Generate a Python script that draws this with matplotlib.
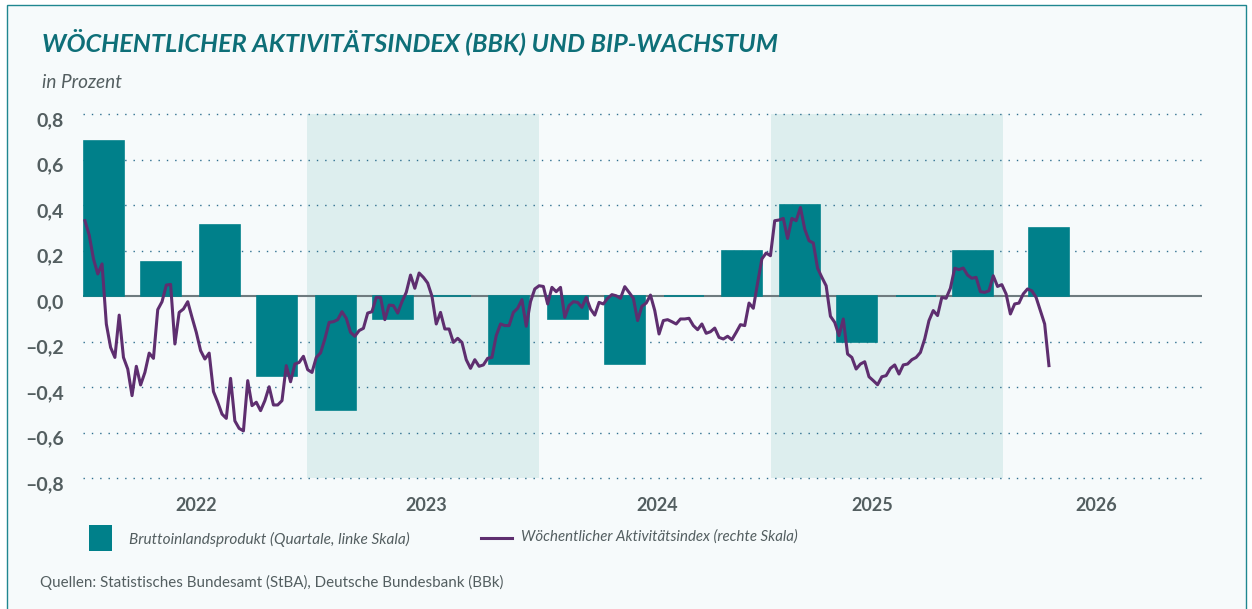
import numpy as np
import pandas as pd
import matplotlib
matplotlib.use('Agg')
import matplotlib.pyplot as plt
import matplotlib.transforms as mtrans
from matplotlib.patches import Rectangle
from matplotlib.lines import Line2D

plt.rcParams['font.family'] = ['Lato', 'DejaVu Sans']

# BIP, Veraenderung gg. Vorquartal (Quartalsmitte)
bip_datum = ['2022-02-15', '2022-05-16', '2022-08-16', '2022-11-15',
             '2023-02-15', '2023-05-16', '2023-08-16', '2023-11-15',
             '2024-02-15', '2024-05-16', '2024-08-16', '2024-11-15',
             '2025-02-15', '2025-05-16', '2025-08-16', '2025-11-15',
             '2026-03-14']
bip_werte = [0.68, 0.15, 0.31, -0.35, -0.50, -0.10, 0.0, -0.30,
             -0.10, -0.30, 0.0, 0.20, 0.40, -0.20, 0.0, 0.20, 0.30]

# Woechentlicher Aktivitaetsindex
wai_start = '2022-01-16'
wai_ende = '2026-03-14'
wai_werte = [
    0.331, 0.268, 0.163, 0.097, 0.141, -0.123, -0.226, -0.27, -0.084, -0.27,
    -0.321, -0.438, -0.309, -0.391, -0.336, -0.251, -0.274, -0.060, -0.025, 0.048,
    0.051, -0.211, -0.072, -0.057, -0.025, -0.094, -0.16, -0.24, -0.277, -0.251,
    -0.42, -0.467, -0.519, -0.538, -0.362, -0.549, -0.582, -0.593, -0.372, -0.482,
    -0.467, -0.504, -0.46, -0.399, -0.479, -0.479, -0.46, -0.306, -0.377, -0.299,
    -0.292, -0.265, -0.324, -0.336, -0.27, -0.25, -0.189, -0.116, -0.113, -0.104,
    -0.069, -0.098, -0.16, -0.177, -0.152, -0.142, -0.075, -0.069, -0.006, -0.006,
    -0.104, -0.04, -0.042, -0.075, -0.025, 0.016, 0.092, 0.034, 0.101, 0.082,
    0.057, -0.001, -0.123, -0.072, -0.145, -0.145, -0.204, -0.186, -0.204, -0.280,
    -0.318, -0.28, -0.309, -0.303, -0.274, -0.27, -0.174, -0.123, -0.13, -0.13,
    -0.072, -0.054, -0.016, -0.133, -0.025, 0.031, 0.045, 0.042, -0.035, 0.038,
    0.019, 0.038, -0.094, -0.042, -0.025, -0.028, -0.05, -0.006, -0.057, -0.084,
    -0.028, -0.035, -0.010, 0.006, 0.001, -0.01, 0.041, 0.016, -0.01, -0.108,
    -0.045, -0.031, 0.004, -0.064, -0.167, -0.108, -0.104, -0.113, -0.123, -0.101,
    -0.101, -0.098, -0.13, -0.148, -0.123, -0.164, -0.157, -0.141, -0.182, -0.189,
    -0.177, -0.192, -0.16, -0.126, -0.13, -0.031, -0.054, 0.057, 0.163, 0.189,
    0.177, 0.331, 0.334, 0.341, 0.253, 0.341, 0.331, 0.389, 0.294, 0.243,
    0.233, 0.122, 0.082, 0.045, -0.089, -0.116, -0.174, -0.101, -0.255, -0.27,
    -0.321, -0.299, -0.289, -0.355, -0.372, -0.39, -0.355, -0.35, -0.318, -0.303,
    -0.343, -0.303, -0.299, -0.28, -0.27, -0.248, -0.189, -0.108, -0.064, -0.086,
    -0.006, -0.01, 0.034, 0.122, 0.116, 0.123, 0.092, 0.078, 0.082, 0.019,
    0.016, 0.023, 0.089, 0.042, 0.05, 0.009, -0.079, -0.035, -0.031, 0.009,
    0.031, 0.023, -0.006, -0.064, -0.123, -0.306]

# hervorgehobene Jahre
schattierung = [('2023-01-01', '2024-01-01'), ('2025-01-01', '2026-01-01')]

jahre = ['2022', '2023', '2024', '2025', '2026']
jahr_pos = ['2022-07-11', '2023-07-07', '2024-07-05', '2025-06-09', '2026-05-28']
y_ticks = [0.8, 0.6, 0.4, 0.2, 0.0, -0.2, -0.4, -0.6, -0.8]

teal = '#00808a'
lila = '#5e2e6f'
grau = '#535e60'
bg = '#f6fafb'

fig = plt.figure(figsize=(12.52, 6.09), dpi=100)
fig.patch.set_facecolor('white')
W, H = 1252, 609
# Rahmen
fig.patches.append(Rectangle((7 / W, -0.01), (1246 - 7) / W, 1 - 5 / H + 0.01,
                             transform=fig.transFigure, facecolor=bg,
                             edgecolor='#1f8790', linewidth=1.0, zorder=-5))

ax = fig.add_axes([83 / W, (H - 478) / H, (1202 - 83) / W, (478 - 114) / H])
ax.set_facecolor('none')
ax.set_zorder(1)

for a, b in schattierung:
    ax.axvspan(pd.Timestamp(a), pd.Timestamp(b), color='#ddeeee', lw=0, zorder=0)

for y in y_ticks:
    if y != 0:
        ax.axhline(y, color='#2f6f8f', lw=1.0, ls=(0, (1, 5)), zorder=1, clip_on=False)
ax.axhline(0, color='#6e7b7f', lw=1.5, zorder=1.5)

d_bip = pd.to_datetime(bip_datum)
ax.bar(d_bip, bip_werte, width=63, color=teal, edgecolor=teal, linewidth=1.2, zorder=2)

d_wai = pd.date_range(wai_start, wai_ende, periods=len(wai_werte))
ax.plot(d_wai, wai_werte, color=lila, lw=2.2, zorder=3, solid_joinstyle='round')

ax.set_ylim(-0.8, 0.8)
ax.set_xlim(pd.Timestamp('2022-01-13'), pd.Timestamp('2026-11-10'))
for s in ax.spines.values():
    s.set_visible(False)

ax.set_yticks(y_ticks)
ax.set_yticklabels([('%.1f' % v).replace('.', ',').replace('-', '\u2013')
                    if v < 0 else ('%.1f' % v).replace('.', ',') for v in y_ticks])
ax.set_xticks(pd.to_datetime(jahr_pos))
ax.set_xticklabels(jahre)
ax.tick_params(length=0, labelsize=13, labelcolor=grau)
ax.tick_params(axis='y', pad=14, labelsize=14)
ax.tick_params(axis='x', pad=14)
for lab in ax.get_yticklabels() + ax.get_xticklabels():
    lab.set_fontweight('bold')
off = mtrans.ScaledTranslation(0, -5 / 100, fig.dpi_scale_trans)
for lab in ax.get_yticklabels():
    lab.set_transform(lab.get_transform() + off)

fig.text(42 / W, 1 - 42 / H, 'WÖCHENTLICHER AKTIVITÄTSINDEX (BBK) UND BIP-WACHSTUM',
         color='#0e6f78', fontsize=18.2, fontweight='bold', fontstyle='italic',
         va='center', ha='left')
fig.text(42 / W, 1 - 82 / H, 'in Prozent', color=grau, fontsize=13.7,
         fontstyle='italic', va='center', ha='left')

# Legende
fig.patches.append(Rectangle((89 / W, 1 - 551 / H), 23 / W, 26 / H,
                             transform=fig.transFigure, facecolor=teal, lw=0))
fig.text(129 / W, 1 - 539 / H, 'Bruttoinlandsprodukt (Quartale, linke Skala)',
         color=grau, fontsize=11.1, fontstyle='italic', va='center', ha='left')
fig.lines.append(Line2D([481 / W, 512 / W], [1 - 538 / H, 1 - 538 / H],
                        transform=fig.transFigure, color=lila, lw=2.2))
fig.text(521 / W, 1 - 537 / H, 'Wöchentlicher Aktivitätsindex (rechte Skala)',
         color=grau, fontsize=10.8, fontstyle='italic', va='center', ha='left')

fig.text(40 / W, 1 - 582 / H,
         'Quellen: Statistisches Bundesamt (StBA), Deutsche Bundesbank (BBk)',
         color=grau, fontsize=10.9, va='center', ha='left')

fig.savefig('out.png', dpi=100, facecolor=fig.get_facecolor())
